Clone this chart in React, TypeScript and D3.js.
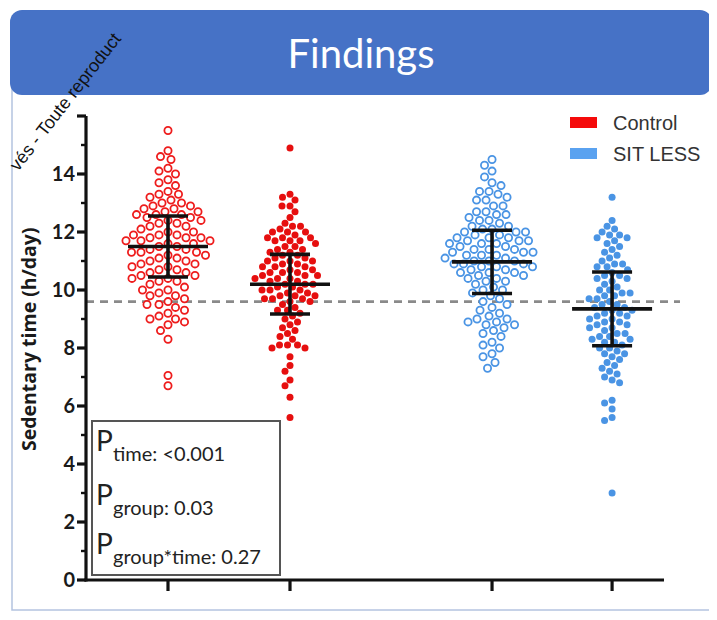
import * as d3 from "d3";
import React from "react";

// group labels + x slots (GraphPad leaves a gap between the two arms)
const groups = ["Control baseline", "Control follow-up", "SIT LESS baseline", "SIT LESS follow-up"];
const slots = [0, 1, 2.656, 3.64];
const filled = [false, true, false, true];
const groupColor = ["#ee1c1c", "#e60f0f", "#4a94e4", "#4a94e4"];

const controlBase = [
  15.5, 14.8, 14.6, 14.5, 14.2, 14.1, 14.0, 13.8, 13.7, 13.6,
  13.4, 13.3, 13.3, 13.2, 13.1, 13.0, 13.0, 12.9, 12.9, 12.8,
  12.8, 12.7, 12.7, 12.6, 12.6, 12.6, 12.5, 12.5,
  12.4, 12.4, 12.3, 12.3, 12.2, 12.2, 12.1,
  12.0, 12.0, 11.9, 11.9, 11.9, 11.8, 11.8, 11.8, 11.7, 11.7, 11.7, 11.6,
  11.6, 11.5, 11.5, 11.4, 11.4, 11.3, 11.3, 11.3, 11.2, 11.2,
  11.1, 11.1, 11.0, 11.0, 10.9, 10.9, 10.8, 10.8, 10.7, 10.7,
  10.6, 10.6, 10.5, 10.5, 10.4, 10.4, 10.3, 10.3,
  10.2, 10.1, 10.0, 10.0, 9.9, 9.8, 9.8,
  9.7, 9.6, 9.5, 9.5, 9.4, 9.3,
  9.2, 9.1, 9.0, 9.0, 8.9, 8.8,
  8.6, 8.3, 7.05, 6.7,
];

const controlFollow = [
  14.9,
  13.3, 13.2, 13.1, 12.9, 12.9, 12.7, 12.5,
  12.3, 12.2, 12.2, 12.1, 12.0, 12.0, 12.0,
  11.9, 11.8, 11.8, 11.8, 11.7, 11.7, 11.7, 11.6,
  11.5, 11.5, 11.4, 11.4, 11.3, 11.3, 11.2, 11.2,
  11.1, 11.1, 11.0, 11.0, 11.0, 10.9, 10.9, 10.8, 10.8, 10.8,
  10.7, 10.7, 10.6, 10.6, 10.6, 10.5, 10.5, 10.5, 10.4, 10.4, 10.4,
  10.3, 10.3, 10.2, 10.2, 10.2, 10.1, 10.1, 10.0, 10.0, 10.0,
  9.9, 9.9, 9.8, 9.8, 9.8, 9.7, 9.7, 9.7, 9.6, 9.6,
  9.5, 9.4, 9.3, 9.3, 9.2, 9.1, 9.0,
  8.9, 8.8, 8.7, 8.6, 8.5, 8.4, 8.3,
  8.1, 8.1, 8.1, 8.0, 8.0,
  7.7, 7.4, 7.2, 6.9, 6.7, 6.3, 5.6,
];

const sitBase = [
  14.5, 14.3, 14.1, 13.9,
  13.7, 13.6, 13.4, 13.4, 13.3,
  13.2, 13.1, 13.1, 12.9, 12.9,
  12.7, 12.7, 12.6, 12.6, 12.5, 12.4, 12.4, 12.3,
  12.2, 12.2, 12.1, 12.1, 12.0, 12.0, 12.0, 11.9, 11.9,
  11.8, 11.8, 11.8, 11.7, 11.7, 11.7, 11.6, 11.6, 11.6, 11.5,
  11.5, 11.4, 11.4, 11.4, 11.3, 11.3, 11.3, 11.2, 11.2, 11.2,
  11.1, 11.1, 11.0, 11.0, 11.0, 10.9, 10.9, 10.9, 10.8, 10.8, 10.8,
  10.7, 10.7, 10.6, 10.6, 10.6, 10.5, 10.5, 10.4, 10.4,
  10.3, 10.3, 10.2, 10.1, 10.0, 10.0,
  9.9, 9.8, 9.7, 9.6, 9.5, 9.4, 9.3,
  9.2, 9.1, 9.0, 9.0, 8.9, 8.9, 8.8, 8.8, 8.7,
  8.6, 8.5, 8.4, 8.2, 8.1,
  8.0, 7.8, 7.7, 7.5, 7.3,
];

const sitFollow = [
  13.2,
  12.4, 12.2, 12.1,
  12.0, 11.9, 11.9, 11.8, 11.8, 11.7,
  11.6, 11.5, 11.4, 11.3, 11.2, 11.1,
  11.0, 10.9, 10.9, 10.8, 10.8, 10.7, 10.6,
  10.5, 10.5, 10.4, 10.4, 10.3, 10.2, 10.1,
  10.0, 10.0, 9.9, 9.9, 9.8, 9.8, 9.7, 9.7, 9.6,
  9.5, 9.5, 9.4, 9.4, 9.3, 9.3, 9.2, 9.2, 9.1, 9.1,
  9.0, 9.0, 8.9, 8.9, 8.8, 8.8, 8.7, 8.7, 8.6,
  8.5, 8.5, 8.4, 8.4, 8.3, 8.3, 8.2, 8.2, 8.1,
  8.0, 8.0, 7.9, 7.8, 7.8, 7.7, 7.6,
  7.5, 7.4, 7.3, 7.2, 7.1, 7.0, 6.9, 6.8,
  6.2, 6.1, 5.9, 5.6, 5.5, 3.0,
];

const groupValues = [controlBase, controlFollow, sitBase, sitFollow];
const means = [11.5, 10.2, 10.97, 9.35];
const sds = [1.05, 1.03, 1.09, 1.27];
const reference = 9.6;
const yTicks = [0, 2, 4, 6, 8, 10, 12, 14];
const legendLabels = ["Control", "SIT LESS"];
const legendColors = ["#f50a0a", "#5aa2f0"];
const pLabels = ["time: <0.001", "group: 0.03", "group*time: 0.27"];

const y = d3.scaleLinear().domain([0, 16]).range([580, 116]);
const x = d3.scaleLinear().domain([0, 1]).range([168, 290]);

// greedy beeswarm: each dot goes as close to the centre as it can without overlapping
function swarm(values: number[], cx: number, d: number) {
  const pts = values.map((v) => ({ v, y: y(v) })).sort((a, b) => a.y - b.y);
  const placed: { x: number; y: number }[] = [];
  pts.forEach((p) => {
    for (let k = 0; k < 400; k++) {
      const off = (k % 2 === 0 ? 1 : -1) * Math.ceil(k / 2) * 0.5;
      const px = cx + off;
      const hit = placed.some((q) => {
        const dy = q.y - p.y;
        const dx = q.x - px;
        return Math.abs(dy) < d && dx * dx + dy * dy < d * d;
      });
      if (!hit) {
        placed.push({ x: px, y: p.y });
        break;
      }
    }
  });
  return placed;
}

export default function App() {
  const axisX = 86;
  const stroke = 3.2;
  const minor = d3.range(1, 16, 2);
  const pRow = [451, 505, 554];

  return (
    <svg width={701} height={604} style={{ display: "block", background: "#fff" }}>
      <g transform="translate(-8,-8)">
        {/* panel */}
        <rect x={12} y={20} width={698} height={590} fill="#fff" stroke="#b4c3e0" strokeWidth={1.5} />
        <rect x={10} y={10} width={702} height={85} rx={12} fill="#4672c6" />
        <text x={361} y={68} textAnchor="middle" fill="#fff" fontFamily="Lato, 'Open Sans', sans-serif" fontSize={40}>
          Findings
        </text>

        {/* reference line */}
        <line x1={axisX} x2={680} y1={y(reference)} y2={y(reference)} stroke="#8a8a8a" strokeWidth={2.6} strokeDasharray="8 6" />

        {/* dots */}
        {groupValues.map((vals, gi) => {
          const d = filled[gi] ? 7.6 : 9.2;
          const pts = swarm(vals, x(slots[gi]), d);
          return (
            <g key={groups[gi]}>
              {pts.map((p, i) =>
                filled[gi] ? (
                  <circle key={i} cx={p.x} cy={p.y} r={3.5} fill={groupColor[gi]} />
                ) : (
                  <circle key={i} cx={p.x} cy={p.y} r={3.6} fill="#fff" stroke={groupColor[gi]} strokeWidth={1.8} />
                )
              )}
            </g>
          );
        })}

        {/* mean +/- SD */}
        {means.map((m, gi) => {
          const cx = x(slots[gi]);
          return (
            <g key={"m" + gi} stroke="#111" strokeWidth={3.6}>
              <line x1={cx - 40} x2={cx + 40} y1={y(m)} y2={y(m)} />
              <line x1={cx} x2={cx} y1={y(m + sds[gi])} y2={y(m - sds[gi])} />
              <line x1={cx - 20} x2={cx + 20} y1={y(m + sds[gi])} y2={y(m + sds[gi])} />
              <line x1={cx - 20} x2={cx + 20} y1={y(m - sds[gi])} y2={y(m - sds[gi])} />
            </g>
          );
        })}

        {/* y axis */}
        <line x1={axisX} x2={axisX} y1={y(16)} y2={y(0) + stroke / 2} stroke="#111" strokeWidth={stroke} />
        {[...yTicks, 16].map((t) => (
          <line key={"t" + t} x1={axisX - 9} x2={axisX} y1={y(t)} y2={y(t)} stroke="#111" strokeWidth={stroke} />
        ))}
        {minor.map((t) => (
          <line key={"mt" + t} x1={axisX - 5} x2={axisX} y1={y(t)} y2={y(t)} stroke="#111" strokeWidth={2.4} />
        ))}
        {yTicks.map((t) => (
          <text key={"l" + t} x={axisX - 11} y={y(t) + 7} textAnchor="end" fontFamily="Lato, sans-serif" fontWeight={700} fontSize={20} fill="#1a1a1a">
            {t}
          </text>
        ))}
        <text transform={`translate(36,${y(8.3)}) rotate(-90)`} textAnchor="middle" fontFamily="'Open Sans', sans-serif" fontWeight={700} fontSize={19.5} fill="#1a1a1a">
          Sedentary time (h/day)
        </text>

        {/* x axis */}
        <line x1={axisX - stroke / 2} x2={664} y1={y(0)} y2={y(0)} stroke="#111" strokeWidth={stroke} />
        {slots.map((s, i) => (
          <line key={"xt" + i} x1={x(s)} x2={x(s)} y1={y(0)} y2={y(0) + 11} stroke="#111" strokeWidth={stroke} />
        ))}

        {/* legend */}
        {legendLabels.map((lab, i) => (
          <g key={lab}>
            <rect x={570} y={117 + i * 31} width={27} height={11} fill={legendColors[i]} />
            <text x={613} y={130 + i * 31} fontFamily="'Liberation Sans', Arial, sans-serif" fontSize={20} fill="#333">
              {lab}
            </text>
          </g>
        ))}

        {/* statistics box */}
        <rect x={92} y={421} width={188} height={154} fill="#fff" stroke="#555" strokeWidth={2} />
        {pLabels.map((sub, i) => (
          <g key={sub} fontFamily="Lato, sans-serif" fill="#222">
            <text x={96} y={pRow[i]} fontSize={28}>P</text>
            <text x={113} y={pRow[i] + 10} fontSize={20}>{sub}</text>
          </g>
        ))}

        {/* watermark fragment */}
        <text transform="translate(18,172) rotate(-52)" fontFamily="'Liberation Sans', sans-serif" fontSize={18} fill="#111">
          vés - Toute reproduct
        </text>
      </g>
    </svg>
  );
}
